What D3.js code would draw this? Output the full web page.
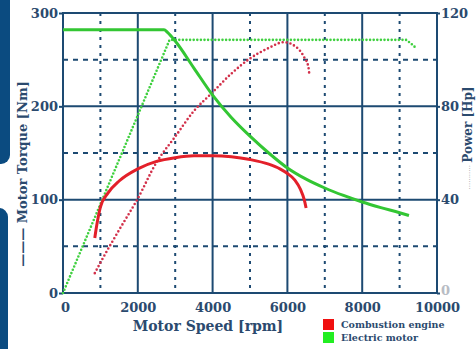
<!DOCTYPE html>
<html><head><meta charset="utf-8">
<script src="https://cdn.jsdelivr.net/npm/d3@7"></script>
<style>body{margin:0;background:#fff;}svg{display:block;}</style>
</head><body>
<svg id="c" width="476" height="349"></svg>
<script>
// ---- data ----
const xTicks = [0, 2000, 4000, 6000, 8000, 10000];
const torqueTicks = [0, 100, 200, 300];
const powerTicks = [0, 40, 80, 120];
const legendLabels = ["Combustion engine", "Electric motor"];

// Combustion engine torque [rpm, Nm]
const iceTorque = [[850,59],[900,72],[950,83],[1000,92],[1200,107],[1500,120],[2000,133],[2500,141],[3000,145],[3500,147],[4000,147],[4500,146],[5000,143],[5500,138],[5800,133],[6000,128],[6200,121],[6350,111],[6450,100],[6500,91]];
// Combustion engine power [rpm, Hp]
const icePower = [[850,8.5],[1000,13],[1500,27],[2000,40.5],[2500,56],[3000,67],[3500,78],[4000,86],[4500,94],[5000,100.5],[5500,105],[5900,107.5],[6230,105.5],[6450,101],[6560,97],[6590,93]];
// Electric motor torque [rpm, Nm]
const evTorque = [[0,282],[2700,282],[2800,279],[3000,270],[3500,241],[4000,212],[4500,188],[5000,168],[5500,150],[6000,134],[6500,122],[7000,112.5],[7500,104.5],[8000,97.5],[8500,91.5],[9000,86],[9250,83]];
// Electric motor power [rpm, Hp]
const evPower = [[0,0],[2850,108.5],[9170,108.5],[9300,107],[9440,105]];

// ---- layout ----
const svg = d3.select("#c");
const L = 63, R = 437, T = 13, B = 293;
const navy = "#1d4a72", txt = "#2b4a6e";
const x = d3.scaleLinear().domain([0, 10000]).range([L, R]);
const yT = d3.scaleLinear().domain([0, 300]).range([B, T]);
const yP = d3.scaleLinear().domain([0, 120]).range([B, T]);

// decorative side panels
svg.append("rect").attr("x", -12).attr("y", -12).attr("width", 22).attr("height", 176).attr("rx", 9).attr("fill", "#0b4b80");
svg.append("rect").attr("x", -12).attr("y", 208).attr("width", 20).attr("height", 160).attr("rx", 9).attr("fill", "#0b4b80");

// grid
const g = svg.append("g");
[1000,3000,5000,7000,9000].forEach(v => g.append("line").attr("x1", x(v)).attr("x2", x(v)).attr("y1", T).attr("y2", B)
  .attr("stroke", navy).attr("stroke-width", 2).attr("stroke-dasharray", "3,5"));
[50,150,250].forEach(v => g.append("line").attr("x1", L).attr("x2", R).attr("y1", yT(v)).attr("y2", yT(v))
  .attr("stroke", navy).attr("stroke-width", 2).attr("stroke-dasharray", "5,5"));
[2000,4000,6000,8000].forEach(v => g.append("line").attr("x1", x(v)).attr("x2", x(v)).attr("y1", T).attr("y2", B)
  .attr("stroke", navy).attr("stroke-width", 2));
[100,200].forEach(v => g.append("line").attr("x1", L).attr("x2", R).attr("y1", yT(v)).attr("y2", yT(v))
  .attr("stroke", navy).attr("stroke-width", 2));
g.append("rect").attr("x", L).attr("y", T).attr("width", R - L).attr("height", B - T)
  .attr("fill", "none").attr("stroke", navy).attr("stroke-width", 2);

// axes
const font = "'DejaVu Serif', serif";
function styleAxis(sel) {
  sel.select(".domain").remove();
  sel.selectAll(".tick line").attr("stroke", navy).attr("stroke-width", 2);
  sel.selectAll("text").attr("font-family", font).attr("font-weight", "bold").attr("font-size", 13).attr("fill", txt);
}
svg.append("g").attr("transform", `translate(${L},0)`)
  .call(d3.axisLeft(yT).tickValues(torqueTicks).tickSize(4).tickPadding(1).tickFormat(d3.format("d"))).call(styleAxis);
const ra = svg.append("g").attr("transform", `translate(${R},0)`)
  .call(d3.axisRight(yP).tickValues(powerTicks).tickSize(3).tickPadding(1).tickFormat(d3.format("d"))).call(styleAxis);
ra.selectAll(".tick").filter(d => d === 0).select("text").attr("fill", "#b8bcc4").attr("dy", "0.1em");
const ba = svg.append("g").attr("transform", `translate(0,${B})`)
  .call(d3.axisBottom(x).tickValues(xTicks).tickSize(0).tickPadding(10).tickFormat(d3.format("d"))).call(styleAxis);
ba.selectAll(".tick").filter(d => d === 0).select("text").attr("dx", 2);

// axis titles
svg.append("text").attr("x", 208).attr("y", 331).attr("text-anchor", "middle")
  .attr("font-family", font).attr("font-weight", "bold").attr("font-size", 14).attr("fill", txt)
  .text("Motor Speed [rpm]");
svg.append("text").attr("transform", "translate(27,174) rotate(-90)").attr("text-anchor", "middle")
  .attr("font-family", font).attr("font-weight", "bold").attr("font-size", 13).attr("fill", txt)
  .text("——— Motor Torque [Nm]");
const rt = svg.append("text").attr("transform", "translate(472,138) rotate(-90)").attr("text-anchor", "middle")
  .attr("font-family", font).attr("font-weight", "bold").attr("font-size", 12).attr("fill", txt);
rt.append("tspan").attr("font-size", 7).attr("fill", "#9aa0a8").attr("font-weight", "normal").text("··········· ");
rt.append("tspan").text("Power [Hp]");

// curves
const lineT = d3.line().x(d => x(d[0])).y(d => yT(d[1])).curve(d3.curveMonotoneX);
const lineP = d3.line().x(d => x(d[0])).y(d => yP(d[1])).curve(d3.curveMonotoneX);
const lineLin = d3.line().x(d => x(d[0])).y(d => yP(d[1]));
const red = "#e3202a", green = "#33c633";
svg.append("path").datum(evPower).attr("d", lineLin).attr("fill", "none").attr("stroke", "#3fd03f")
  .attr("stroke-width", 2.6).attr("stroke-dasharray", "0,3.6").attr("stroke-linecap", "round");
svg.append("path").datum(icePower).attr("d", lineP).attr("fill", "none").attr("stroke", "#d2304a")
  .attr("stroke-width", 2.6).attr("stroke-dasharray", "0,4").attr("stroke-linecap", "round");
svg.append("path").datum(evTorque).attr("d", lineT).attr("fill", "none").attr("stroke", green).attr("stroke-width", 3);
svg.append("path").datum(iceTorque).attr("d", lineT).attr("fill", "none").attr("stroke", red).attr("stroke-width", 3);

// legend
const legColors = ["#f01010", "#22ee22"];
legendLabels.forEach((l, i) => {
  svg.append("rect").attr("x", 323).attr("y", 319 + i * 13).attr("width", 11).attr("height", 11).attr("fill", legColors[i]);
  svg.append("text").attr("x", 341).attr("y", 328 + i * 13).attr("font-family", font).attr("font-weight", "bold")
    .attr("font-size", 9.5).attr("fill", txt).text(l);
});
</script>
</body></html>
